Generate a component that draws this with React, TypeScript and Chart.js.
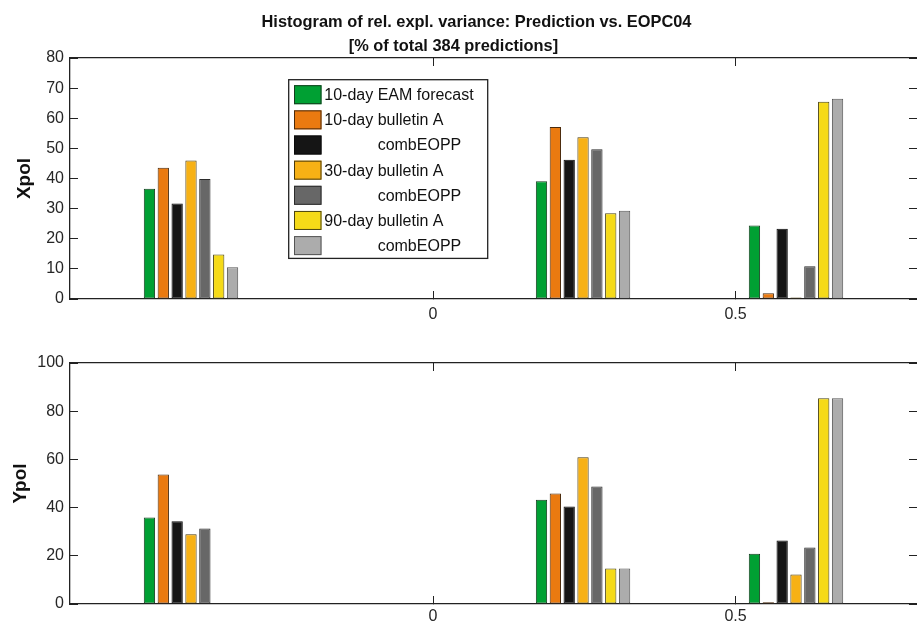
import React, { useEffect, useRef } from 'react';
import { Chart, registerables } from 'chart.js';

Chart.register(...registerables);

const FONT = '"Liberation Sans", Arial, Helvetica, sans-serif';
Chart.defaults.font.family = FONT;

// ---------- data ----------
const titleLines = [
  'Histogram of rel. expl. variance: Prediction vs. EOPC04',
  '[% of total 384 predictions]',
];
const seriesLabels = [
  '10-day EAM forecast',
  '10-day bulletin A',
  '            combEOPP',
  '30-day bulletin A',
  '            combEOPP',
  '90-day bulletin A',
  '            combEOPP',
];
const binCenters = [-0.4, 0.248, 0.6];
const xTickValues = [0, 0.5];
const xRange = [-0.6, 0.8];

const xpolYTicks = [0, 10, 20, 30, 40, 50, 60, 70, 80];
const ypolYTicks = [0, 20, 40, 60, 80, 100];

// Xpol (top panel)
const xpolEam10 = [36.6, 39.1, 24.4];
const xpolBullA10 = [43.6, 57.1, 1.9];
const xpolComb10 = [31.7, 46.2, 23.3];
const xpolBullA30 = [46.0, 53.7, 0.5];
const xpolComb30 = [39.8, 49.7, 10.9];
const xpolBullA90 = [14.8, 28.5, 65.5];
const xpolComb90 = [10.5, 29.3, 66.5];

// Ypol (bottom panel)
const ypolEam10 = [35.9, 43.3, 20.9];
const ypolBullA10 = [53.7, 45.8, 0.7];
const ypolComb10 = [34.3, 40.5, 26.4];
const ypolBullA30 = [28.9, 60.9, 12.2];
const ypolComb30 = [31.3, 48.8, 23.4];
const ypolBullA90 = [0, 14.7, 85.4];
const ypolComb90 = [0, 14.7, 85.4];

// ---------- styles ----------
const seriesColors = ['#00a033', '#ea7a10', '#151515', '#f7b115', '#676767', '#f5da18', '#acacac'];
const seriesEdges = ['#153d1f', '#4a2a0c', '#0a0a0a', '#4a3a0c', '#2b2b2b', '#4a4412', '#555555'];
const AXIS_COLOR = '#222222';
const TEXT_COLOR = '#262626';

const legendPlugin = {
  id: 'boxLegend',
  afterDraw(chart: any, _args: any, opts: any) {
    if (!opts || !opts.show) return;
    const { ctx, chartArea } = chart;
    const x0 = chartArea.left + opts.dx;
    const y0 = chartArea.top + opts.dy;
    ctx.save();
    ctx.fillStyle = '#ffffff';
    ctx.fillRect(x0, y0, opts.w, opts.h);
    ctx.lineWidth = 1.3;
    ctx.strokeStyle = AXIS_COLOR;
    ctx.strokeRect(x0, y0, opts.w, opts.h);
    ctx.font = `${opts.fontSize}px ${FONT}`;
    ctx.textBaseline = 'middle';
    ctx.textAlign = 'left';
    chart.data.datasets.forEach((ds: any, i: number) => {
      const cy = y0 + opts.firstY + i * opts.pitch;
      ctx.fillStyle = ds.backgroundColor;
      ctx.fillRect(x0 + opts.swX, cy - opts.swH / 2, opts.swW, opts.swH);
      ctx.lineWidth = 1;
      ctx.strokeStyle = ds.borderColor;
      ctx.strokeRect(x0 + opts.swX + 0.5, cy - opts.swH / 2 + 0.5, opts.swW - 1, opts.swH - 1);
      ctx.fillStyle = '#111111';
      ctx.fillText(ds.label, x0 + opts.textX, cy + 1);
    });
    ctx.restore();
  },
};

const titlePlugin = {
  id: 'figTitle',
  afterDraw(chart: any, _args: any, opts: any) {
    if (!opts || !opts.lines) return;
    const { ctx } = chart;
    ctx.save();
    ctx.font = `bold ${opts.fontSize}px ${FONT}`;
    ctx.fillStyle = '#111111';
    ctx.textAlign = 'center';
    ctx.textBaseline = 'alphabetic';
    opts.lines.forEach((line: string, i: number) => {
      ctx.fillText(line, opts.xs[i], opts.ys[i]);
    });
    ctx.restore();
  },
};

function makeDatasets(series: number[][]) {
  return series.map((vals, i) => ({
    label: seriesLabels[i],
    data: vals.map((v, j) => ({ x: binCenters[j], y: v })),
    backgroundColor: seriesColors[i],
    borderColor: seriesEdges[i],
    borderWidth: 1,
    borderSkipped: false,
    inflateAmount: 0,
    barThickness: 13.85,
    maxBarThickness: 11.3,
  }));
}

function makeConfig(
  series: number[][],
  yTicks: number[],
  yTitle: string,
  yTitlePad: number,
  padTop: number,
  xHeight: number,
  xLabelPad: number,
  withLegend: boolean,
  withTitle: boolean
): any {
  const tickFont = { family: FONT, size: 16 };
  const setXTicks = (s: any) => {
    s.ticks = xTickValues.map((v) => ({ value: v }));
  };
  const setYTicks = (s: any) => {
    s.ticks = yTicks.map((v) => ({ value: v }));
  };
  const noPad = (s: any) => {
    s.paddingTop = 0;
    s.paddingBottom = 0;
    s.paddingLeft = 0;
    s.paddingRight = 0;
  };
  const grid = {
    display: true,
    drawOnChartArea: false,
    drawTicks: true,
    tickLength: -8,
    color: AXIS_COLOR,
    tickColor: AXIS_COLOR,
    lineWidth: 1,
  };
  const border = { display: true, color: AXIS_COLOR, width: 1.3 };
  return {
    type: 'bar',
    data: { datasets: makeDatasets(series) },
    plugins: [legendPlugin, titlePlugin],
    options: {
      animation: false,
      responsive: false,
      events: [],
      layout: { padding: { top: padTop, left: 0, right: 0, bottom: 0 } },
      plugins: {
        legend: { display: false },
        tooltip: { enabled: false },
        title: { display: false },
        boxLegend: withLegend
          ? {
              show: true,
              dx: 218.7,
              dy: 21.7,
              w: 199,
              h: 178.7,
              firstY: 15,
              pitch: 25.15,
              swX: 5.3,
              swW: 27.5,
              swH: 19,
              textX: 35.6,
              fontSize: 16,
            }
          : { show: false },
        figTitle: withTitle
          ? { lines: titleLines, xs: [476.5, 453.4], ys: [27, 50.5], fontSize: 16.4 }
          : {},
      },
      scales: {
        x: {
          type: 'linear',
          axis: 'x',
          position: 'bottom',
          min: xRange[0],
          max: xRange[1],
          offset: false,
          afterBuildTicks: setXTicks,
          afterFit: (s: any) => {
            s.height = xHeight;
            noPad(s);
          },
          grid: { ...grid, offset: false },
          border,
          ticks: {
            font: tickFont,
            color: TEXT_COLOR,
            padding: xLabelPad,
            maxRotation: 0,
            autoSkip: false,
            callback: (v: any) => String(v),
          },
        },
        x2: {
          type: 'linear',
          axis: 'x',
          position: 'top',
          min: xRange[0],
          max: xRange[1],
          offset: false,
          afterBuildTicks: setXTicks,
          afterFit: (s: any) => {
            s.height = 0;
            noPad(s);
          },
          grid: { ...grid, offset: false },
          border,
          ticks: { display: false },
        },
        y: {
          type: 'linear',
          axis: 'y',
          position: 'left',
          min: yTicks[0],
          max: yTicks[yTicks.length - 1],
          afterBuildTicks: setYTicks,
          afterFit: (s: any) => {
            s.width = 70;
            noPad(s);
          },
          grid,
          border,
          ticks: {
            font: tickFont,
            color: TEXT_COLOR,
            padding: 14,
            autoSkip: false,
            callback: (v: any) => String(v),
          },
          title: {
            display: true,
            text: yTitle,
            color: '#111111',
            font: { family: FONT, size: 19, weight: 'bold' },
            padding: { top: yTitlePad, bottom: 0 },
          },
        },
        y2: {
          type: 'linear',
          axis: 'y',
          position: 'right',
          min: yTicks[0],
          max: yTicks[yTicks.length - 1],
          afterBuildTicks: setYTicks,
          afterFit: (s: any) => {
            s.width = 0;
            noPad(s);
          },
          grid,
          border: { display: false },
          ticks: { display: false },
        },
      },
    },
  };
}

function Panel(props: { config: any; width: number; height: number; top: number }) {
  const ref = useRef<HTMLCanvasElement | null>(null);
  useEffect(() => {
    if (!ref.current) return;
    const chart = new Chart(ref.current, props.config);
    return () => chart.destroy();
  }, []);
  return (
    <canvas
      ref={ref}
      width={props.width}
      height={props.height}
      style={{ position: 'absolute', left: 0, top: props.top, width: props.width, height: props.height, display: 'block' }}
    />
  );
}

export default function App() {
  const topConfig = makeConfig(
    [xpolEam10, xpolBullA10, xpolComb10, xpolBullA30, xpolComb30, xpolBullA90, xpolComb90],
    xpolYTicks,
    'Xpol',
    13,
    58,
    31,
    14,
    true,
    true
  );
  const bottomConfig = makeConfig(
    [ypolEam10, ypolBullA10, ypolComb10, ypolBullA30, ypolComb30, ypolBullA90, ypolComb90],
    ypolYTicks,
    'Ypol',
    9.8,
    33,
    20,
    11,
    false,
    false
  );
  return (
    <div style={{ position: 'absolute', left: 0, top: 0, width: 917, height: 624, background: '#ffffff', overflow: 'hidden' }}>
      <Panel config={topConfig} width={917} height={330} top={0} />
      <Panel config={bottomConfig} width={917} height={294} top={330} />
    </div>
  );
}
